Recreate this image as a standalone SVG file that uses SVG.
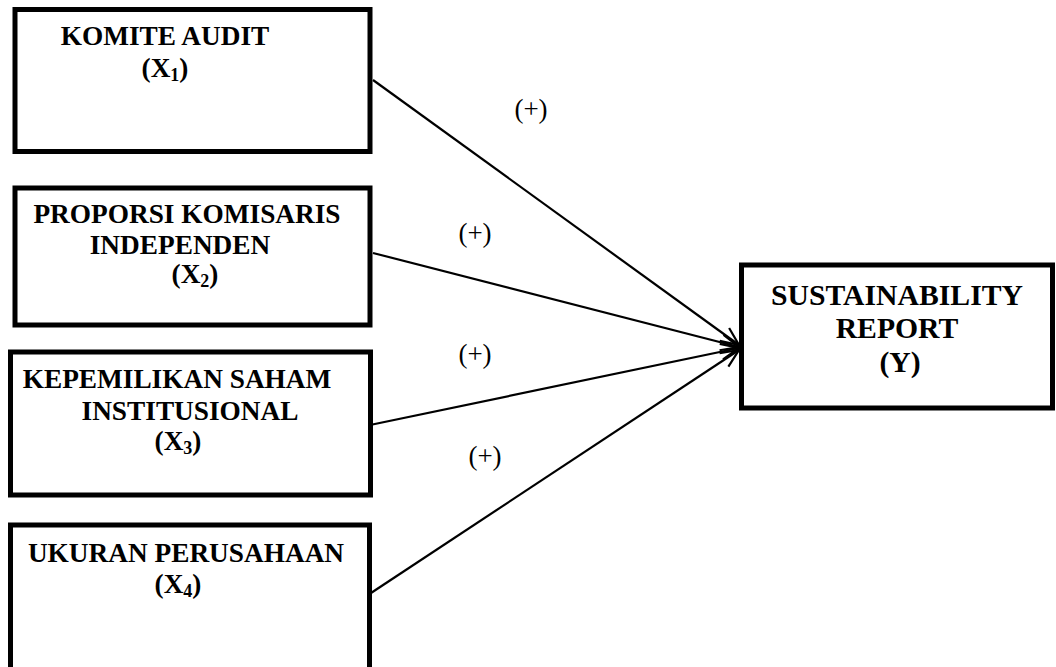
<svg xmlns="http://www.w3.org/2000/svg" width="1056" height="667" viewBox="0 0 1056 667">
<style>
.box{fill:#fff;stroke:#000;stroke-width:5}
.t{font-family:"Liberation Serif","Times New Roman",serif;font-weight:bold;font-size:27.3px;fill:#000;text-anchor:middle}
.ty{font-family:"Liberation Serif","Times New Roman",serif;font-weight:bold;font-size:29.7px;fill:#000;text-anchor:middle}
.sub{font-size:18px}
.lbl{font-family:"Liberation Serif","Times New Roman",serif;font-size:27px;fill:#000;text-anchor:middle}
.conn{stroke:#000;stroke-width:2.2;fill:none}
</style>
<defs>
<marker id="arr" viewBox="0 0 20 20" refX="19" refY="10" markerWidth="20" markerHeight="20" markerUnits="userSpaceOnUse" orient="auto">
<path d="M1,2 L19,10 L1,18" fill="none" stroke="#000" stroke-width="2.2"/>
</marker>
</defs>
<rect width="1056" height="667" fill="#fff"/>
<g id="connectors">
<line class="conn" x1="373" y1="80" x2="739" y2="345" marker-end="url(#arr)"/>
<line class="conn" x1="373" y1="253" x2="739" y2="347" marker-end="url(#arr)"/>
<line class="conn" x1="370" y1="425" x2="739" y2="348" marker-end="url(#arr)"/>
<line class="conn" x1="371" y1="593" x2="739" y2="350" marker-end="url(#arr)"/>
<text class="lbl" x="531" y="118">(+)</text>
<text class="lbl" x="475" y="242">(+)</text>
<text class="lbl" x="475" y="363">(+)</text>
<text class="lbl" x="485" y="465">(+)</text>
</g>
<g id="x1">
<rect class="box" x="15" y="9.5" width="355" height="142"/>
<text class="t" x="165" y="45">KOMITE AUDIT</text>
<text class="t" x="165" y="77">(X<tspan class="sub" dy="4">1</tspan><tspan dy="-4">)</tspan></text>
</g>
<g id="x2">
<rect class="box" x="15" y="188" width="355" height="137"/>
<text class="t" x="187" y="223">PROPORSI KOMISARIS</text>
<text class="t" x="180" y="254">INDEPENDEN</text>
<text class="t" x="195" y="283">(X<tspan class="sub" dy="4">2</tspan><tspan dy="-4">)</tspan></text>
</g>
<g id="x3">
<rect class="box" x="10.5" y="352" width="360" height="143"/>
<text class="t" x="177" y="388">KEPEMILIKAN SAHAM</text>
<text class="t" x="190" y="420">INSTITUSIONAL</text>
<text class="t" x="178" y="450">(X<tspan class="sub" dy="4">3</tspan><tspan dy="-4">)</tspan></text>
</g>
<g id="x4">
<rect class="box" x="10.5" y="525" width="359" height="160"/>
<text class="t" x="186" y="562">UKURAN PERUSAHAAN</text>
<text class="t" x="178" y="593">(X<tspan class="sub" dy="4">4</tspan><tspan dy="-4">)</tspan></text>
</g>
<g id="y">
<rect class="box" x="741.5" y="265" width="311" height="143"/>
<text class="ty" x="897" y="305">SUSTAINABILITY</text>
<text class="ty" x="897" y="338">REPORT</text>
<text class="ty" x="900" y="372">(Y)</text>
</g>
</svg>
